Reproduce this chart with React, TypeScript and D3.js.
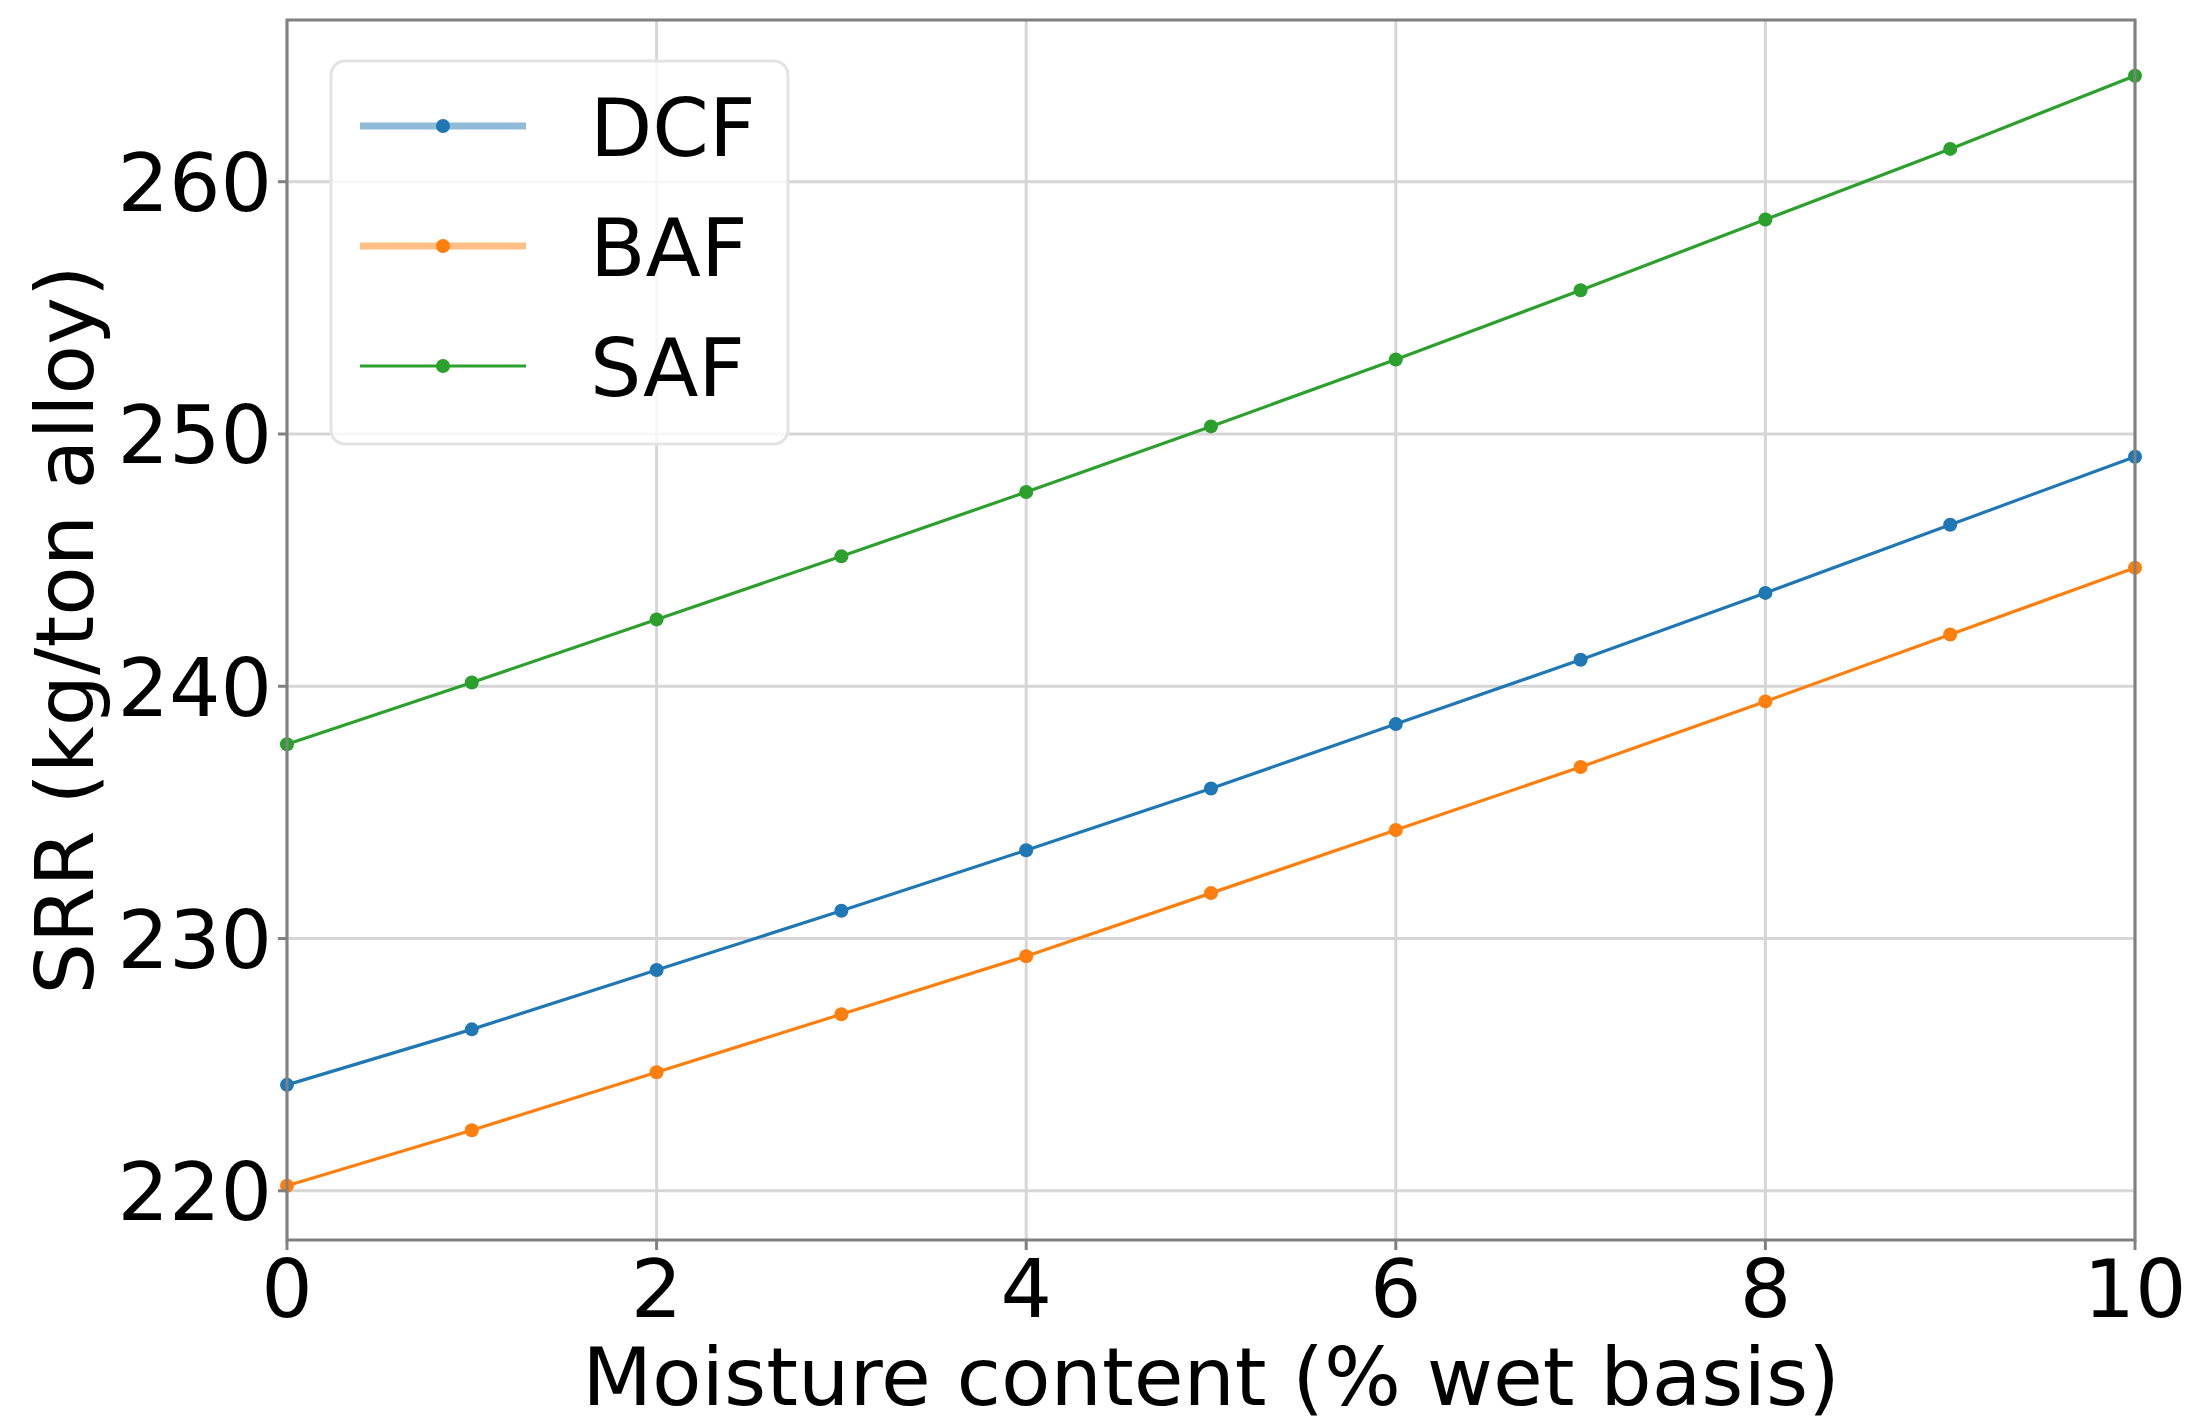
import { useEffect, useRef } from "react";
import * as d3 from "d3";

const moisture = [0, 1, 2, 3, 4, 5, 6, 7, 8, 9, 10];
const dcf = [224.2, 226.4, 228.75, 231.1, 233.5, 235.95, 238.5, 241.05, 243.7, 246.4, 249.1];
const baf = [220.2, 222.4, 224.7, 227.0, 229.3, 231.8, 234.3, 236.8, 239.4, 242.05, 244.7];
const saf = [237.7, 240.15, 242.65, 245.15, 247.7, 250.3, 252.95, 255.7, 258.5, 261.3, 264.2];
const xTicks = [0, 2, 4, 6, 8, 10];
const yTicks = [220, 230, 240, 250, 260];

const seriesNames = ["DCF", "BAF", "SAF"];
const seriesValues = [dcf, baf, saf];
const seriesColors = ["#1f77b4", "#ff7f0e", "#2ca02c"];

export default function App() {
  const svgRef = useRef<SVGSVGElement>(null);

  useEffect(() => {
    if (!svgRef.current) return;
    const width = 2188;
    const height = 1421;
    const margin = { top: 20, right: 53, bottom: 181, left: 287 };
    const fontSize = 81;
    const font = "DejaVu Sans, sans-serif";

    const svg = d3.select(svgRef.current);
    svg.selectAll("*").remove();
    svg.attr("width", width).attr("height", height);

    svg.append("rect").attr("width", width).attr("height", height).attr("fill", "#ffffff");

    const x = d3
      .scaleLinear()
      .domain([0, 10])
      .range([margin.left, width - margin.right]);
    const y = d3
      .scaleLinear()
      .domain([218.05, 266.41])
      .range([height - margin.bottom, margin.top]);

    const [x0, x1] = x.range();
    const [yb, yt] = y.range();

    // Grid
    const grid = svg.append("g");
    grid
      .selectAll("line.gx")
      .data(xTicks)
      .enter()
      .append("line")
      .attr("x1", (d) => x(d))
      .attr("x2", (d) => x(d))
      .attr("y1", yt)
      .attr("y2", yb)
      .attr("stroke", "#d6d6d6")
      .attr("stroke-width", 3);
    grid
      .selectAll("line.gy")
      .data(yTicks)
      .enter()
      .append("line")
      .attr("x1", x0)
      .attr("x2", x1)
      .attr("y1", (d) => y(d))
      .attr("y2", (d) => y(d))
      .attr("stroke", "#d6d6d6")
      .attr("stroke-width", 3);

    // Lines and markers
    const line = d3
      .line<number>()
      .x((_d, i) => x(moisture[i]))
      .y((d) => y(d));

    seriesValues.forEach((vals, si) => {
      svg
        .append("path")
        .attr("d", line(vals))
        .attr("fill", "none")
        .attr("stroke", seriesColors[si])
        .attr("stroke-width", 3.2);
      svg
        .append("g")
        .selectAll("circle")
        .data(vals)
        .enter()
        .append("circle")
        .attr("cx", (_d, i) => x(moisture[i]))
        .attr("cy", (d) => y(d))
        .attr("r", 7)
        .attr("fill", seriesColors[si]);
    });

    // Spines
    svg
      .append("rect")
      .attr("x", x0)
      .attr("y", yt)
      .attr("width", x1 - x0)
      .attr("height", yb - yt)
      .attr("fill", "none")
      .attr("stroke", "#808080")
      .attr("stroke-width", 3);

    // X ticks
    const xt = svg.append("g");
    xTicks.forEach((t) => {
      xt.append("line")
        .attr("x1", x(t))
        .attr("x2", x(t))
        .attr("y1", yb)
        .attr("y2", yb + 10)
        .attr("stroke", "#808080")
        .attr("stroke-width", 3);
      xt.append("text")
        .attr("x", x(t))
        .attr("y", 1317)
        .attr("text-anchor", "middle")
        .attr("font-family", font)
        .attr("font-size", fontSize)
        .attr("fill", "#000")
        .text(String(t));
    });

    // Y ticks
    const ytg = svg.append("g");
    yTicks.forEach((t) => {
      ytg
        .append("line")
        .attr("x1", x0 - 9)
        .attr("x2", x0)
        .attr("y1", y(t))
        .attr("y2", y(t))
        .attr("stroke", "#808080")
        .attr("stroke-width", 3);
      ytg
        .append("text")
        .attr("x", 272)
        .attr("y", y(t) + 29.5)
        .attr("text-anchor", "end")
        .attr("font-family", font)
        .attr("font-size", fontSize)
        .attr("fill", "#000")
        .text(String(t));
    });

    // Axis labels
    svg
      .append("text")
      .attr("x", (x0 + x1) / 2)
      .attr("y", 1405)
      .attr("text-anchor", "middle")
      .attr("font-family", font)
      .attr("font-size", fontSize)
      .attr("fill", "#000")
      .text("Moisture content (% wet basis)");

    svg
      .append("text")
      .attr("transform", `translate(93,${(yt + yb) / 2}) rotate(-90)`)
      .attr("text-anchor", "middle")
      .attr("font-family", font)
      .attr("font-size", fontSize)
      .attr("fill", "#000")
      .text("SRR (kg/ton alloy)");

    // Legend
    const lg = svg.append("g");
    lg.append("rect")
      .attr("x", 331)
      .attr("y", 61)
      .attr("width", 457)
      .attr("height", 383)
      .attr("rx", 14)
      .attr("fill", "#ffffff")
      .attr("fill-opacity", 0.8)
      .attr("stroke", "#e3e3e3")
      .attr("stroke-width", 3);

    const rowY = [126, 246, 366];
    const handleW = [7, 7, 3];
    const handleAlpha = [0.5, 0.5, 1];
    seriesNames.forEach((name, i) => {
      lg.append("line")
        .attr("x1", 360)
        .attr("x2", 526)
        .attr("y1", rowY[i])
        .attr("y2", rowY[i])
        .attr("stroke", seriesColors[i])
        .attr("stroke-opacity", handleAlpha[i])
        .attr("stroke-width", handleW[i]);
      lg.append("circle")
        .attr("cx", 443)
        .attr("cy", rowY[i])
        .attr("r", 7)
        .attr("fill", seriesColors[i]);
      lg.append("text")
        .attr("x", 590)
        .attr("y", rowY[i] + 29.5)
        .attr("font-family", font)
        .attr("font-size", fontSize)
        .attr("fill", "#000")
        .text(name);
    });
  }, []);

  return (
    <svg
      ref={svgRef}
      style={{ position: "absolute", left: 0, top: 0, display: "block" }}
    />
  );
}
